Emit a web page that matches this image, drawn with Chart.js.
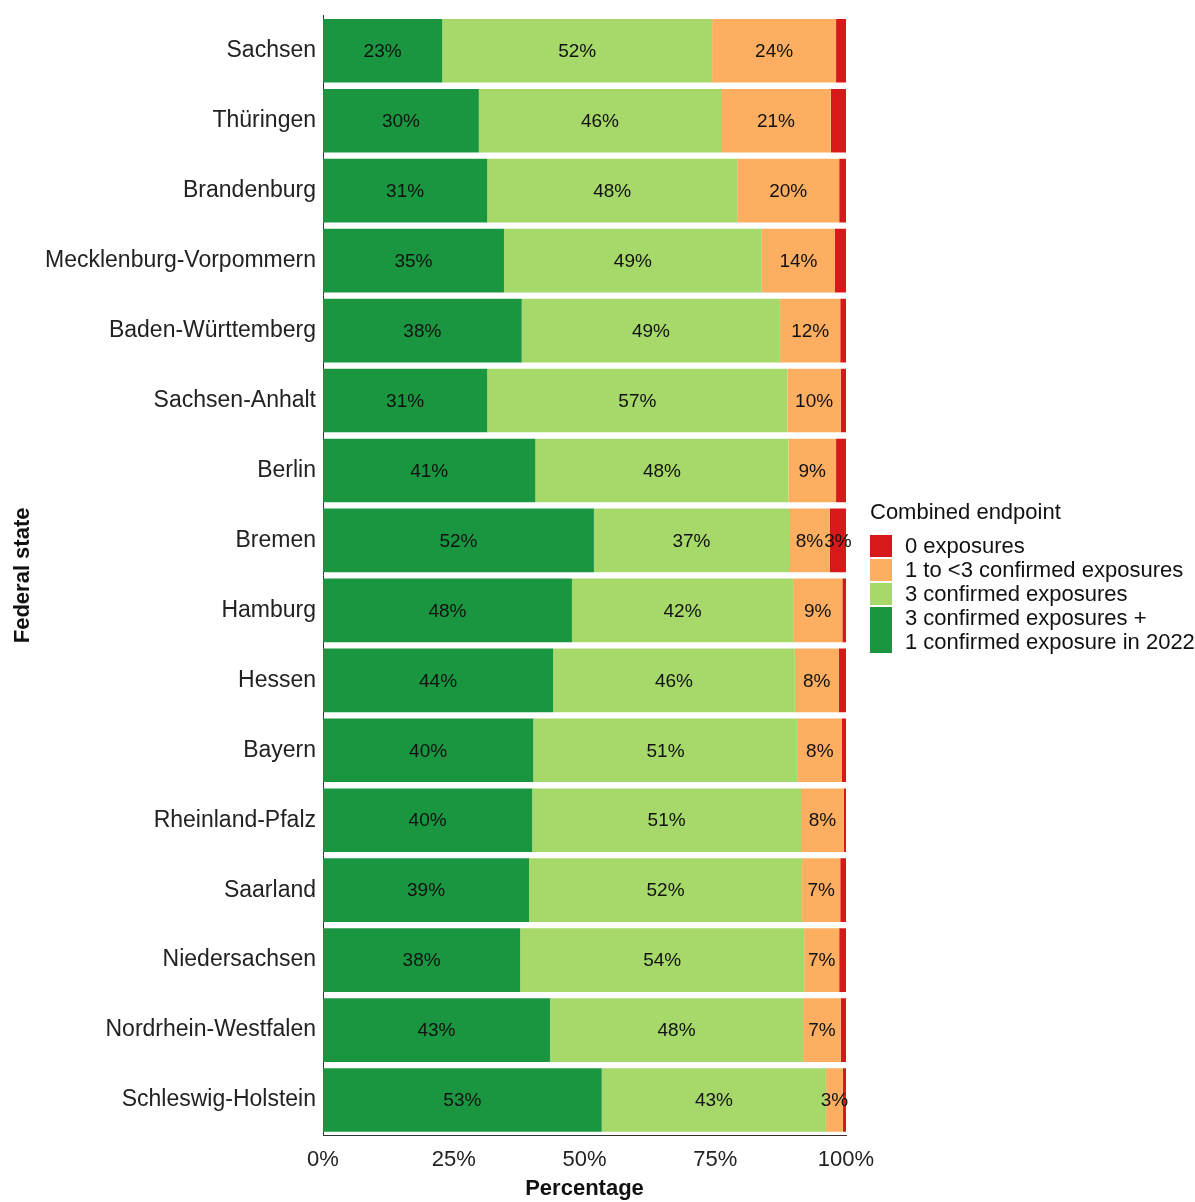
<!DOCTYPE html>
<html>
<head>
<meta charset="utf-8">
<script src="https://cdn.jsdelivr.net/npm/chart.js@4.4.1/dist/chart.umd.min.js"></script>
<style>
  body { margin: 0; background: #fff; font-family: "Liberation Sans", Arial, sans-serif; }
  #wrap { position: relative; width: 1195px; height: 1202px; }
  #legend { position: absolute; left: 870px; top: 499px; font-size: 22px; color: #111; }
  #legend .title { margin-bottom: 9px; }
  #legend .row { display: flex; align-items: flex-start; line-height: 24px; }
  #legend .box { width: 22px; margin-right: 13px; flex: none; }
</style>
</head>
<body>
<div id="wrap">
  <canvas id="chart" width="1195" height="1202"></canvas>
  <div id="legend"></div>
</div>
<script>
// Federal states, top to bottom
const states = ['Sachsen', 'Thüringen', 'Brandenburg', 'Mecklenburg-Vorpommern', 'Baden-Württemberg',
  'Sachsen-Anhalt', 'Berlin', 'Bremen', 'Hamburg', 'Hessen', 'Bayern', 'Rheinland-Pfalz',
  'Saarland', 'Niedersachsen', 'Nordrhein-Westfalen', 'Schleswig-Holstein'];

// Shares in percent
const fullPlus2022 = [22.8, 29.8, 31.4, 34.6, 38.0, 31.4, 40.6, 51.8, 47.6, 44.0, 40.2, 40.0, 39.4, 37.7, 43.4, 53.3];
const threeConfirmed = [51.6, 46.3, 47.8, 49.3, 49.4, 57.4, 48.4, 37.3, 42.3, 46.2, 50.6, 51.4, 52.2, 54.3, 48.4, 42.9];
const oneToThree = [23.7, 21.0, 19.5, 14.0, 11.5, 10.2, 9.1, 7.8, 9.4, 8.4, 8.4, 8.2, 7.3, 6.7, 7.2, 3.2];
const zeroExposures = [1.9, 2.9, 1.3, 2.1, 1.1, 1.0, 1.9, 3.1, 0.7, 1.4, 0.8, 0.4, 1.1, 1.3, 1.0, 0.6];

const xTicks = ['0%', '25%', '50%', '75%', '100%'];

const colors = {
  zero: '#d7191c',
  low: '#fdae61',
  three: '#a6d96a',
  full: '#1a9641'
};

const FONT = '"Liberation Sans", Arial, sans-serif';

// Labels inside the bar segments
const barLabels = {
  id: 'barLabels',
  afterDatasetsDraw(chart) {
    const ctx = chart.ctx;
    ctx.save();
    ctx.font = '19px ' + FONT;
    ctx.fillStyle = '#111';
    ctx.textAlign = 'center';
    ctx.textBaseline = 'middle';
    chart.data.datasets.forEach((ds, i) => {
      chart.getDatasetMeta(i).data.forEach((bar, j) => {
        const v = ds.data[j];
        if (v < 3) return;
        const x = (bar.x + bar.base) / 2;
        ctx.fillText(Math.round(v) + '%', x, bar.y + 1);
      });
    });
    ctx.restore();
  }
};

new Chart(document.getElementById('chart'), {
  type: 'bar',
  data: {
    labels: states,
    datasets: [
      { label: 'full', data: fullPlus2022, backgroundColor: colors.full },
      { label: 'three', data: threeConfirmed, backgroundColor: colors.three },
      { label: 'low', data: oneToThree, backgroundColor: colors.low },
      { label: 'zero', data: zeroExposures, backgroundColor: colors.zero }
    ]
  },
  options: {
    indexAxis: 'y',
    responsive: false,
    animation: false,
    categoryPercentage: 1,
    barPercentage: 0.91,
    layout: { padding: { top: 13, right: 349, left: 10, bottom: 0 } },
    plugins: { legend: { display: false }, tooltip: { enabled: false } },
    scales: {
      x: {
        stacked: true,
        min: 0,
        max: 100,
        afterFit: s => { s.height = 67; },
        grid: { display: false, drawTicks: true, tickLength: 6, tickColor: '#333' },
        border: { color: '#333', width: 1 },
        ticks: {
          stepSize: 25,
          color: '#222',
          padding: 6,
          font: { size: 22, family: FONT },
          callback: (v, i) => xTicks[i]
        },
        title: {
          display: true, text: 'Percentage', color: '#111', padding: 0,
          font: { size: 22, weight: 'bold', family: FONT }
        }
      },
      y: {
        stacked: true,
        afterFit: s => { s.width = 313; },
        grid: { display: false, drawTicks: true, tickLength: 5, tickColor: '#333' },
        border: { color: '#333', width: 1 },
        ticks: {
          color: '#222',
          padding: 2,
          font: { size: 23, family: FONT }
        },
        title: {
          display: true, text: 'Federal state', color: '#111', padding: 0,
          font: { size: 22, weight: 'bold', family: FONT }
        }
      }
    }
  },
  plugins: [barLabels]
});

// Legend
const legendItems = [
  { text: '0 exposures', color: colors.zero },
  { text: '1 to &lt;3 confirmed exposures', color: colors.low },
  { text: '3 confirmed exposures', color: colors.three },
  { text: '3 confirmed exposures +<br>1 confirmed exposure in 2022', color: colors.full, lines: 2 }
];
const legend = document.getElementById('legend');
legend.innerHTML = '<div class="title">Combined endpoint</div>' + legendItems.map(it =>
  `<div class="row"><div class="box" style="background:${it.color};height:${(it.lines || 1) * 24 - 2}px;margin-top:1px"></div><div>${it.text}</div></div>`
).join('');
</script>
</body>
</html>
